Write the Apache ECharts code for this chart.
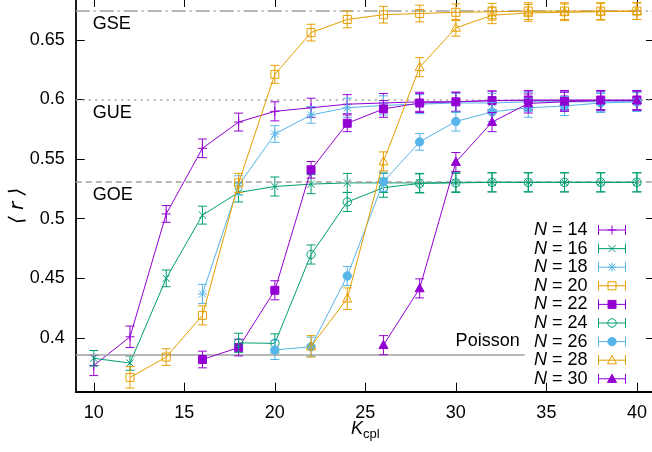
<!DOCTYPE html>
<html><head><meta charset="utf-8">
<script src="https://cdn.jsdelivr.net/npm/echarts@6/dist/echarts.min.js"></script>
<style>html,body{margin:0;padding:0;background:#fff}#c{width:652px;height:452px}</style>
</head><body><div id="c"></div>
<script>
// ---- data ----
const kcpl = [10,12,14,16,18,20,22,24,26,28,30,32,34,36,38,40];
const r14 = [0.377,0.401,0.504,0.559,0.581,0.590,0.593,0.596,0.597,0.598,0.598,0.599,0.599,0.599,0.599,0.599];
const e14 = [0.0085,0.009,0.007,0.0078,0.0075,0.008,0.008,0.008,0.008,0.008,0.008,0.008,0.008,0.008,0.008,0.008];
const r16 = [0.383,0.379,0.450,0.503,0.522,0.527,0.529,0.530,0.530,0.530,0.5305,0.5305,0.5305,0.5305,0.5305,0.5305];
const e16 = [0.0065,0.006,0.007,0.0075,0.008,0.008,0.008,0.008,0.008,0.008,0.008,0.008,0.008,0.008,0.008,0.008];
const r18 = [null,null,null,0.437,0.528,0.571,0.587,0.593,0.595,0.596,0.597,0.597,0.598,0.598,0.598,0.598];
const e18 = [null,null,null,0.008,0.008,0.007,0.007,0.008,0.008,0.008,0.008,0.008,0.008,0.008,0.008,0.008];
const r20 = [null,0.367,0.384,0.419,0.530,0.621,0.656,0.667,0.671,0.672,0.673,0.6735,0.674,0.674,0.674,0.674];
const e20 = [null,0.009,0.007,0.008,0.008,0.0075,0.007,0.007,0.007,0.007,0.007,0.007,0.007,0.007,0.007,0.007];
const r22 = [null,null,null,0.382,0.392,0.440,0.541,0.580,0.592,0.597,0.598,0.599,0.5995,0.5995,0.5995,0.5995];
const e22 = [null,null,null,0.007,0.007,0.008,0.007,0.007,0.007,0.008,0.008,0.008,0.008,0.008,0.008,0.008];
const r24 = [null,null,null,null,0.396,0.3955,0.470,0.514,0.526,0.5296,0.530,0.5305,0.5305,0.5305,0.5305,0.5305];
const e24 = [null,null,null,null,0.008,0.008,0.008,0.008,0.008,0.008,0.008,0.008,0.008,0.008,0.008,0.008];
const r26 = [null,null,null,null,null,0.390,0.3927,0.452,0.531,0.5644,0.5815,0.5895,0.593,0.5945,0.597,0.598];
const e26 = [null,null,null,null,null,0.008,0.008,0.008,0.008,0.007,0.008,0.008,0.008,0.008,0.008,0.008];
const r28 = [null,null,null,null,null,null,0.393,0.433,0.548,0.627,0.660,0.6705,0.6725,0.673,0.6735,0.674];
const e28 = [null,null,null,null,null,null,0.009,0.009,0.008,0.008,0.007,0.007,0.007,0.007,0.007,0.007];
const r30 = [null,null,null,null,null,null,null,null,0.394,0.4416,0.5475,0.581,0.5966,0.598,0.599,0.599];
const e30 = [null,null,null,null,null,null,null,null,0.008,0.008,0.008,0.008,0.008,0.008,0.008,0.008];
const sizes = ['14','16','18','20','22','24','26','28','30'];
const refNames = ['GSE','GUE','GOE','Poisson'];
const refValues = [0.6744,0.5996,0.5307,0.3863];
const poissonEnd = 33.8;
const xTicks = [10,15,20,25,30,35,40];
const yTicks = [0.4,0.45,0.5,0.55,0.6,0.65];

// ---- styles ----
const FONT = '"Liberation Sans", Arial, Helvetica, sans-serif';
const PURPLE='#9400d3', GREEN='#009e73', BLUE='#56b4e9', ORANGE='#e69f00';
const styles = [
  {c:PURPLE,m:'plus'},{c:GREEN,m:'cross'},{c:BLUE,m:'star'},{c:ORANGE,m:'osq'},
  {c:PURPLE,m:'fsq'},{c:GREEN,m:'ocir'},{c:BLUE,m:'fcir'},{c:ORANGE,m:'otri'},{c:PURPLE,m:'ftri'}
];
const allR=[r14,r16,r18,r20,r22,r24,r26,r28,r30];
const allE=[e14,e16,e18,e20,e22,e24,e26,e28,e30];

function markerShapes(m,x,y,c){
  const s={stroke:c,lineWidth:1,fill:'none'};
  const f={stroke:c,lineWidth:1,fill:c};
  const L=(x1,y1,x2,y2)=>({type:'line',shape:{x1,y1,x2,y2},style:s});
  const a=4.5,d=3.6;
  switch(m){
    case 'plus': return [L(x-a,y,x+a,y),L(x,y-a,x,y+a)];
    case 'cross': return [L(x-d,y-d,x+d,y+d),L(x-d,y+d,x+d,y-d)];
    case 'star': return [L(x-a,y,x+a,y),L(x,y-a,x,y+a),L(x-d,y-d,x+d,y+d),L(x-d,y+d,x+d,y-d)];
    case 'osq': return [{type:'rect',shape:{x:x-4,y:y-4,width:8,height:8},style:s}];
    case 'fsq': return [{type:'rect',shape:{x:x-4,y:y-4,width:8,height:8},style:f}];
    case 'ocir': return [{type:'circle',shape:{cx:x,cy:y,r:4.2},style:s}];
    case 'fcir': return [{type:'circle',shape:{cx:x,cy:y,r:4.2},style:f}];
    case 'otri': return [{type:'polygon',shape:{points:[[x,y-4.8],[x+4.5,y+3.4],[x-4.5,y+3.4]]},style:s}];
    case 'ftri': return [{type:'polygon',shape:{points:[[x,y-4.8],[x+4.5,y+3.4],[x-4.5,y+3.4]]},style:f}];
  }
  return [];
}
function legendPath(m){
  const base='M0,5L27,5M0,0L0,10M27,0L27,10';
  const mk={
    plus:'M9,5L18,5M13.5,0.5L13.5,9.5',
    cross:'M10,1.5L17,8.5M10,8.5L17,1.5',
    star:'M9,5L18,5M13.5,0.5L13.5,9.5M10,1.5L17,8.5M10,8.5L17,1.5',
    osq:'M9.5,1L17.5,1L17.5,9L9.5,9Z',
    fsq:'M9.5,1L17.5,1L17.5,9L9.5,9Z',
    ocir:'M17.7,5A4.2,4.2 0 1,1 9.3,5A4.2,4.2 0 1,1 17.7,5Z',
    fcir:'M17.7,5A4.2,4.2 0 1,1 9.3,5A4.2,4.2 0 1,1 17.7,5Z',
    otri:'M13.5,0.4L18,8.6L9,8.6Z',
    ftri:'M13.5,0.4L18,8.6L9,8.6Z'
  };
  return 'path://'+base+mk[m];
}
function makeRender(c,m){
  return function(params,api){
    const x=api.value(0),y=api.value(1),e=api.value(2);
    const p=api.coord([x,y]),t=api.coord([x,y+e]),b=api.coord([x,y-e]);
    const s={stroke:c,lineWidth:1,fill:'none'};
    const cw=4.5;
    const ch=[
      {type:'line',shape:{x1:p[0],y1:t[1],x2:p[0],y2:b[1]},style:s},
      {type:'line',shape:{x1:p[0]-cw,y1:t[1],x2:p[0]+cw,y2:t[1]},style:s},
      {type:'line',shape:{x1:p[0]-cw,y1:b[1],x2:p[0]+cw,y2:b[1]},style:s}
    ].concat(markerShapes(m,p[0],p[1],c));
    return {type:'group',children:ch};
  };
}

const series=[];
const legendData=[];
sizes.forEach((n,i)=>{
  const st=styles[i];
  const pts=[],errs=[];
  kcpl.forEach((k,j)=>{ if(allR[i][j]!=null){ pts.push([k,allR[i][j]]); errs.push([k,allR[i][j],allE[i][j]]); } });
  series.push({type:'line',name:n,data:pts,symbol:'none',lineStyle:{color:st.c,width:1},itemStyle:{color:st.c},z:2+i,animation:false,silent:true});
  series.push({type:'custom',name:n,data:errs,renderItem:makeRender(st.c,st.m),encode:{x:0,y:1},z:2+i,animation:false,silent:true});
  const filled = st.m[0]==='f';
  legendData.push({name:n,icon:legendPath(st.m),itemStyle:{color:filled?st.c:'none',borderColor:st.c,borderWidth:1}});
});

const refStyles=[
  {type:[14,4,2,4],pos:'insideStartBottom'},
  {type:[2,4.5],pos:'insideStartBottom'},
  {type:[6,4],pos:'insideStartBottom'},
  {type:'solid',pos:'insideEndTop'}
];
const mlData = refNames.map((nm,i)=>{
  const lbl={show:true,formatter:nm,position:refStyles[i].pos,distance:[17,4],color:'#000',fontSize:18,fontFamily:FONT};
  const ls={color:'#a0a0a0',width:1.5,type:refStyles[i].type};
  if(nm==='Poisson'){
    return [{coord:[9,refValues[i]],lineStyle:ls,label:Object.assign({},lbl,{distance:[5,4]})},{coord:[poissonEnd,refValues[i]]}];
  }
  return {yAxis:refValues[i],lineStyle:ls,label:lbl};
});
series.push({type:'line',name:'ref',data:[],z:20,silent:true,animation:false,
  markLine:{silent:true,animation:false,precision:5,symbol:['none','none'],data:mlData}});

const chart=echarts.init(document.getElementById('c'),null,{renderer:'canvas'});
const tickCommon={show:true,inside:true,length:9,lineStyle:{color:'#000',width:1}};
chart.setOption({
  backgroundColor:'#fff',
  animation:false,
  grid:{left:75.7,right:-3,top:-2,bottom:60.3,outerBoundsMode:'none',containLabel:false},
  xAxis:[
    {type:'value',min:9,max:41,position:'bottom',
     axisLine:{show:true,onZero:false,lineStyle:{color:'#000',width:1.8}},
     axisTick:Object.assign({},tickCommon,{customValues:xTicks}),
     axisLabel:{show:true,customValues:xTicks,margin:12,color:'#000',fontSize:18,fontFamily:FONT},
     splitLine:{show:false},
     name:'{k|K}{s|cpl}',nameLocation:'middle',nameGap:31,nameMoveOverlap:false,
     nameTextStyle:{color:'#000',rich:{k:{fontFamily:FONT,fontSize:18,fontStyle:'italic',color:'#000',lineHeight:18,padding:[0,0,6,0]},s:{fontFamily:FONT,fontSize:13,color:'#000',lineHeight:14,verticalAlign:'bottom'}}}},
    {type:'value',min:9,max:41,position:'top',
     axisLine:{show:true,onZero:false,lineStyle:{color:'#000',width:1.8}},
     axisTick:Object.assign({},tickCommon,{customValues:xTicks}),
     axisLabel:{show:false},splitLine:{show:false}}
  ],
  yAxis:[
    {type:'value',min:0.355,max:0.685,position:'left',
     axisLine:{show:true,onZero:false,lineStyle:{color:'#000',width:1.8}},
     axisTick:Object.assign({},tickCommon,{customValues:yTicks}),
     axisLabel:{show:true,customValues:yTicks,margin:11,color:'#000',fontSize:18,fontFamily:FONT},
     splitLine:{show:false},
     name:'⟨ r ⟩',nameLocation:'middle',nameGap:48,nameRotate:90,nameMoveOverlap:false,
     nameTextStyle:{color:'#000',fontFamily:'"DejaVu Sans", sans-serif',fontSize:20,fontStyle:'italic',padding:[0,22,0,0]}},
    {type:'value',min:0.355,max:0.685,position:'right',
     axisLine:{show:true,onZero:false,lineStyle:{color:'#000',width:1.8}},
     axisTick:Object.assign({},tickCommon,{customValues:yTicks}),
     axisLabel:{show:false},splitLine:{show:false}}
  ],
  legend:{orient:'vertical',right:19,top:216,align:'right',itemWidth:27,itemHeight:10,itemGap:0.6,
    selectedMode:false,data:legendData,
    formatter:function(name){return '{n|N} = '+name;},
    textStyle:{fontFamily:FONT,fontSize:18,color:'#000',lineHeight:18,padding:[0,6,0,0],
      rich:{n:{fontFamily:FONT,fontSize:18,fontStyle:'italic',color:'#000',lineHeight:18}}}},
  series:series
});
</script></body></html>
